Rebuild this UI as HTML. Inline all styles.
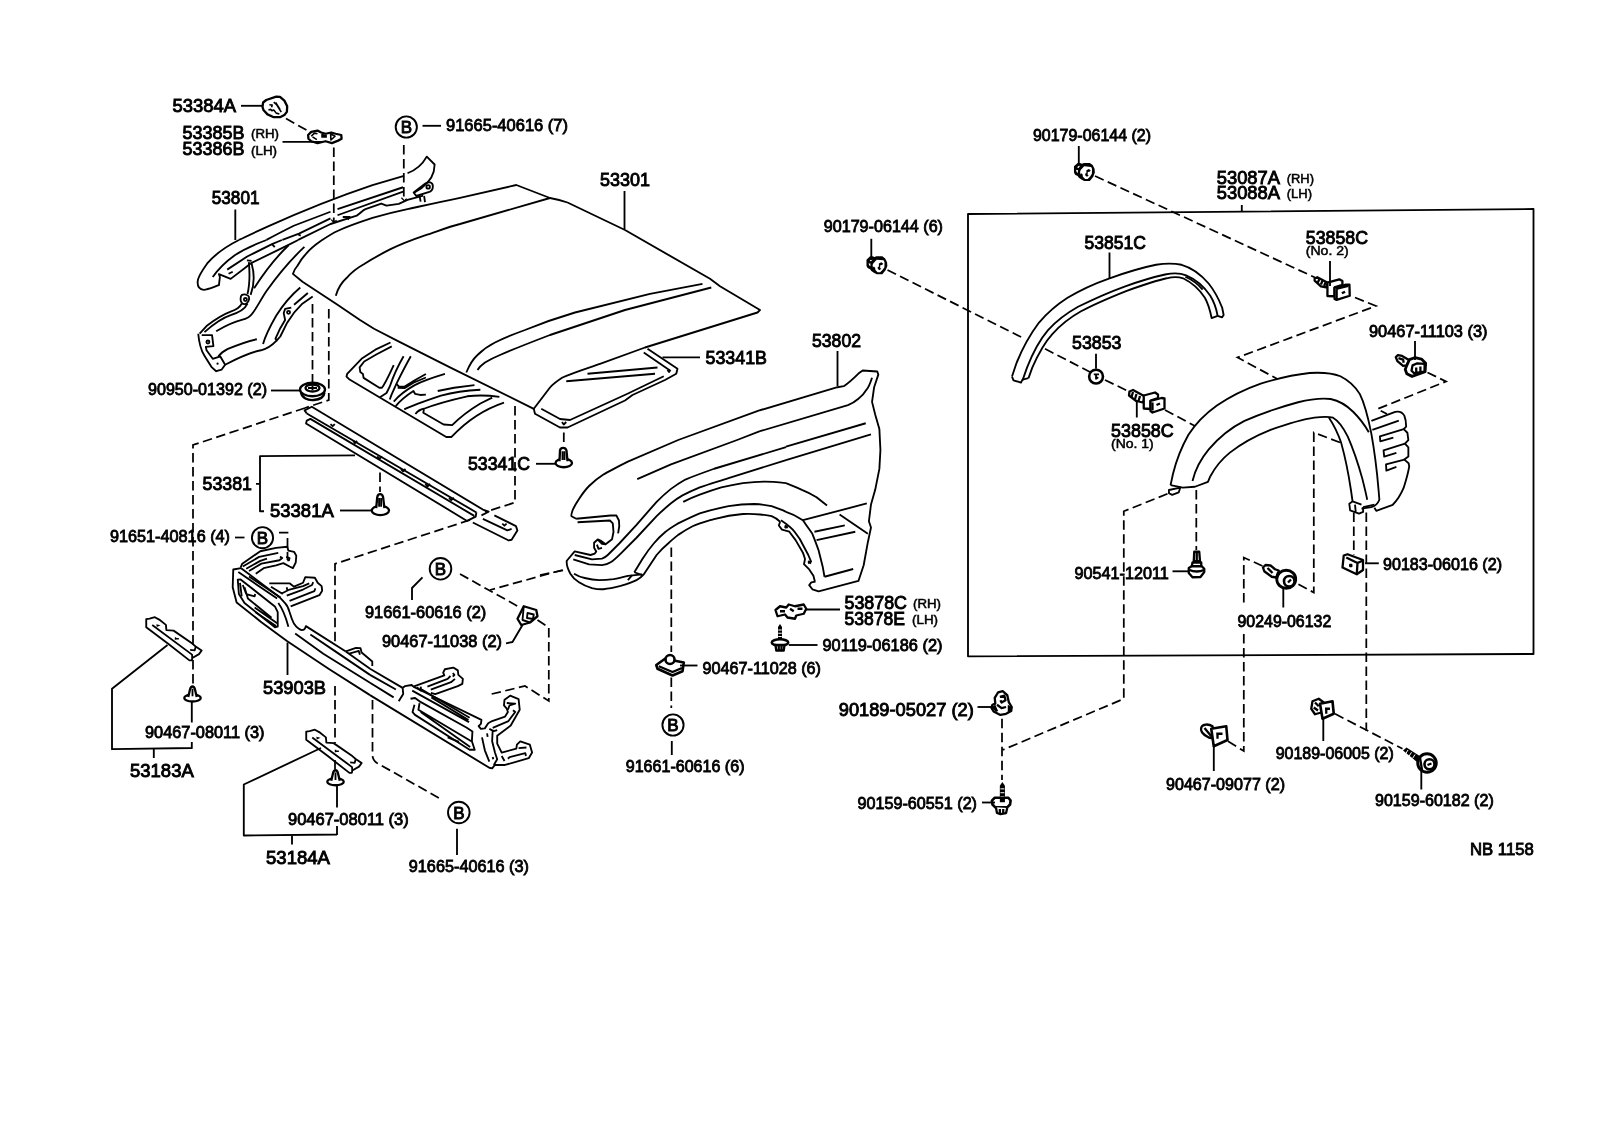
<!DOCTYPE html>
<html><head><meta charset="utf-8"><title>53-01 Hood &amp; Front Fender</title>
<style>
html,body{margin:0;padding:0;background:#fff;}
body{width:1600px;height:1146px;overflow:hidden;font-family:"Liberation Sans",sans-serif;}
svg{display:block;position:absolute;left:0;top:0;filter:grayscale(1);}
text{font-family:"Liberation Sans",sans-serif;fill:#000;}
text.a{stroke:#000;stroke-width:.95px;}
text.b{stroke:#000;stroke-width:.85px;}
text.c{stroke:#000;stroke-width:.5px;}
.B text{font-size:17px;text-anchor:middle;stroke:#000;stroke-width:.9px;}
.l,.p{fill:none;stroke:#000;stroke-width:1.85;stroke-linecap:butt;stroke-linejoin:round;}
.d{fill:none;stroke:#000;stroke-width:1.75;stroke-dasharray:9.5 4.5;}
.p path,.p circle,.p ellipse,.p rect{vector-effect:non-scaling-stroke;}
.w{fill:#fff;}
.h path,.h circle,.h ellipse,.p .t{stroke-width:2.3;}
.k{fill:#000;stroke:none;}
</style></head><body>
<svg width="1600" height="1146" viewBox="0 0 1600 1146">
<rect width="1600" height="1146" fill="#fff"/>
<!-- ===== cap 53384A & clip 53385B (16x coords) ===== -->
<g class="p h" transform="translate(255,90) scale(0.0625)">
<path d="M130,200 L180,160 L340,105 L400,110 L470,170 L515,260 L510,350 L470,400 L400,435 L300,435 L200,390 L135,320 L120,270 Z"/>
<path d="M230,235 L275,240 L265,275 M215,320 L250,310 L270,330 L300,320 L340,370 L390,385 M300,195 L350,240 L420,355 M330,200 L400,310" style="stroke-width:1.6"/>
<path d="M850,720 L900,670 L1000,650 L1060,680 L1130,700 L1220,680 L1290,700 L1380,720 L1385,780 L1330,810 L1230,850 L1130,820 L1000,850 L900,820 L855,780 Z"/>
<path class="k" d="M1060,700 L1150,715 L1150,765 L1060,765 Z"/>
<path d="M900,740 L950,690 L1000,700 M920,750 L990,795 M1210,700 L1280,740 L1215,800 Z" style="stroke-width:1.6"/>
</g>
<!-- ===== apron 53801 rail (R2 coords) ===== -->
<g class="p" transform="translate(180,140) scale(0.175)">
<path d="M1280,205 L1100,258 C900,325 700,405 500,495 C430,527 380,550 337,571"/>
<path d="M675,571 L860,480 L1010,432 C1030,420 1045,400 1060,395 L1150,363 L1180,375 L1250,365 L1300,342 L1390,318"/>
<path d="M930,440 L970,440 L958,455"/>
<path d="M494,571 C560,535 600,515 650,490 L860,410 M900,395 L1275,270"/>
<path d="M585,571 L680,535 L860,448 M900,430 L1275,295"/>
<path d="M675,540 L690,546"/>
<path d="M1300,190 C1340,175 1385,140 1410,95 L1455,140 L1450,180 C1440,220 1400,270 1340,300"/>
<path d="M1335,300 L1400,250 C1420,235 1445,240 1445,265 C1445,285 1430,295 1420,298 L1350,320 Z"/>
<circle cx="1418" cy="268" r="10"/>
<path d="M1370,325 L1375,352 M1395,320 L1400,355"/>
</g>
<!-- ===== apron lower / wheelhouse (R16 coords) ===== -->
<g class="p" transform="translate(170,240) scale(0.13785)">
<path d="M500,0 C420,40 330,100 270,170 C230,225 200,280 200,305 C200,335 215,360 245,362 C270,362 320,340 355,328 L362,268 L355,248 L440,282 L560,190 L585,170 L860,35 L930,0"/>
<path d="M310,268 C340,225 400,160 470,110 C540,65 620,30 700,0"/>
<path d="M415,215 L560,120 L740,30 L812,0"/>
<path d="M740,30 L760,52 M425,245 L455,230 M558,148 L592,152"/>
<path d="M572,160 C580,250 580,320 562,392 M592,170 C615,250 610,330 585,398"/>
<path d="M520,400 C535,390 565,395 572,410 C580,430 565,460 545,465 C525,468 510,450 512,425 C513,410 515,405 520,400Z"/>
<circle cx="547" cy="432" r="11"/>
<path d="M520,462 C505,495 470,510 440,520 C400,535 330,575 270,620 L215,680"/>
<path d="M562,462 C540,510 490,530 440,545 C380,565 310,615 250,668"/>
<path d="M975,50 C900,120 800,230 700,370 C660,430 630,490 600,530 C580,560 560,572 520,580 C460,595 390,630 335,662"/>
<path d="M860,38 C790,105 700,210 610,350"/>
<path d="M945,345 C880,400 820,470 770,550 C730,620 690,700 675,755"/>
<path d="M1000,385 L900,470"/>
<path d="M1035,410 L960,462 C920,500 880,550 850,600 L800,700 L775,728 L765,715 L800,640 L835,580 L825,530 L835,500 L880,490"/>
<circle cx="860" cy="525" r="11"/>
<path d="M775,728 C740,765 700,790 660,800 C600,812 520,845 470,870 L400,905"/>
<path d="M630,720 C560,735 480,765 420,790 C390,805 365,825 350,845"/>
<path d="M205,680 C210,740 225,800 250,840 L300,920 L335,952 L375,940 L400,905 L365,845 L310,862 L265,800 L260,775 L315,770 L305,690 L230,690"/>
<circle cx="275" cy="740" r="11"/><circle class="k" cx="345" cy="897" r="8"/>
</g>

<!-- ===== HOOD 53301 (real coords) ===== -->
<g class="l">
<path d="M292.9,273.9 C294,270 295.5,268 297.3,266 C300,261 303,257 306,253.8 C310,249 315,245 320,241.5 C326,237.5 331,234 337.5,231 C348,226 360,222 372.5,217.9 C384,214.5 396,211.5 407.5,209.1 C424,205.5 442,201.5 460,197.8 L516.3,185 L550,198 C556,199 562,200.5 567.5,202.5 L625,230 L710,278.8 L720,286.3 L760,310 L757.5,312.5 L645,347.5 L600,363.8 C588,368 572,373 562.5,377.5 C557,381 553,384 550,387.5 L533.8,408.8 L450,367.3 L397.5,340.8 L374,328.8 L360,320 L337.5,304.7 L302.5,281.8 Z"/>
<path d="M335.8,295.8 C338,288 341,283 346.3,278.3 C351,273 357,268 363.8,264.3 C372,259 381,254 390,249.4 C401,244 413,239.5 425,235.4 C437,231.5 448,227 460,224 L550,198"/>
<path d="M702.5,283.8 L650,293.8 L575,312.5 C558,317.5 541,323.5 525,330 C514,334 504,338 495,342.5 C488,346 482,350.5 477.5,355 C472,360 469,366 466.3,372.5"/>
<path d="M711.3,287.5 L625,310 L550,335 C533,341.5 516,348 500,355 C494,357.5 489,360 485,362.5 C481.5,365 479,367.5 477.5,370"/>
</g>

<!-- ===== hood inner panel LEFT (R17 coords) ===== -->
<g class="p" transform="translate(336,330) scale(0.13125)">
<path d="M415,95 L300,150 L200,215 L85,335 L80,355 L100,375 L840,815 L880,815 C950,740 1080,620 1280,553"/>
<path d="M425,125 L310,185 L215,240 L180,285 L185,320 L205,335 L210,365 L330,440 L350,440 C375,410 410,330 440,268"/>
<path d="M515,200 C480,260 430,370 410,430 L385,480 L335,512"/>
<path d="M570,200 C530,270 480,370 460,410 L420,500 L410,530"/>
<path d="M460,410 L480,432 L520,432 L600,383 L685,335 M470,440 L525,442 L590,402 L685,362"/>
<path d="M440,545 C470,510 520,465 600,420 C640,400 730,365 830,335"/>
<path d="M455,580 C480,550 520,510 590,465 L602,486 L640,495 L685,492"/>
<path d="M775,465 L900,440 L1055,420"/>
<path d="M520,605 C560,585 620,560 800,500 C880,478 1000,460 1100,455"/>
<path d="M605,640 C620,620 640,605 670,600 C720,580 800,550 1000,505 C1080,495 1180,500 1245,510"/>
<path d="M670,605 L665,630 L820,720 L885,725 C930,680 1000,620 1100,560 L1190,515"/>
</g>
<!-- ===== hood inner panel RIGHT 53341B, cap 90950, clip 53341C (R4 coords) ===== -->
<g class="p" transform="translate(280,300) scale(0.25)">
<path d="M1470,195 L1590,275 L1585,295 L1540,320 L1410,380 L1380,402 L1150,510 L1120,510 L1020,455 L1015,435"/>
<path d="M1455,210 L1560,282"/>
<path d="M1230,295 L1510,270 M1145,325 L1500,295"/>
<path d="M1535,305 L1390,375 L1160,480 L1120,476 L1045,435"/>
<path d="M1550,280 L1556,288 L1562,280 M1128,488 L1135,498 L1145,488"/>
<!-- cap 90950 -->
<ellipse class="t" cx="130" cy="358" rx="50" ry="27"/>
<ellipse class="t" cx="130" cy="352" rx="28" ry="14"/>
<path d="M112,352 H148 M130,342 V360"/>
<path class="t" d="M84,370 C88,392 110,402 135,400 C160,398 176,388 178,370"/>
<!-- clip 53341C -->
<ellipse class="w t" cx="1135" cy="652" rx="33" ry="17"/>
<path class="w t" d="M1118,645 L1120,602 C1122,588 1142,588 1146,602 L1150,645"/>
<path d="M1130,605 V640 M1138,605 V640"/>
</g>
<!-- ===== rail 53381 & clip 53381A (R18 coords) ===== -->
<g class="p" transform="translate(296,396) scale(0.14375)">
<path d="M75,122 L60,100 L110,75 L1300,790 L1340,805 L1290,830"/>
<path d="M75,122 L1255,810"/>
<path d="M1240,834 L100,159 L75,171 L70,191 L1190,869 L1250,839 L1255,810"/>
<path d="M240,195 L255,210 L270,195 M398,310 L410,328 L425,312 M565,420 L580,438 L598,420 M730,508 L745,524 L762,508 M900,612 L915,630 L932,612 M1065,708 L1080,724 L1098,708"/>
<path d="M1380,830 L1530,905 L1540,935 L1500,1000 L1480,1005 L1230,880"/>
<path d="M1300,855 L1470,935 L1500,925"/>
<path d="M1435,888 L1450,902 L1465,888"/>
<!-- clip -->
<ellipse class="w t" cx="587" cy="797" rx="60" ry="32"/>
<path class="w t" d="M558,780 L565,705 C570,675 600,675 606,705 L615,780"/>
<path d="M578,710 V770 M592,710 V770"/>
</g>

<!-- ===== FENDER 53802 front (R19 coords) ===== -->
<g class="p" transform="translate(556,440) scale(0.14375)">
<path d="M1419,-207 L850,0 L500,150 C430,185 370,215 330,240 C290,265 255,295 230,320 C200,350 180,380 160,410 C140,440 125,465 115,490 C108,510 105,525 108,530 L140,548"/>
<path d="M140,548 L380,525 L420,525 L438,560 L440,600 L432,650"/>
<path d="M150,572 L375,560 L395,580 L400,640 L390,690 L345,725 L310,700 L290,692 L265,715 L265,750 L280,775 L270,790 L240,800 L130,775 L75,840 C72,860 78,890 100,930 C115,955 135,975 160,990 C190,1010 220,1022 250,1030 C280,1037 300,1040 330,1038 C370,1034 410,1025 450,1015 C490,1003 530,990 560,975 C580,965 598,950 610,935 L640,890 C660,860 680,830 700,800 C725,770 750,745 780,720 C800,700 825,680 850,660 C880,640 915,618 950,600 C1000,578 1050,565 1100,550 C1170,532 1240,520 1300,515 C1340,512 1380,514 1420,518 C1450,521 1480,525 1500,530 C1525,540 1545,555 1560,570"/>
<path d="M290,692 L320,722 L345,725 M285,728 L295,757 L320,750"/>
<path d="M130,800 L250,830 L320,825 C335,820 350,810 360,800 L440,720 L560,590 L700,430 C730,400 765,368 800,340 C830,318 865,295 900,275 C960,250 1030,225 1100,200 L1600,50"/>
<path d="M120,830 L230,865 L320,870 C345,868 365,860 380,850 C405,835 430,810 450,790 L560,680 L700,530 C735,495 770,465 800,440 C825,420 850,402 880,385 C920,365 960,347 1000,330 C1060,308 1130,288 1200,265 L1600,140"/>
<path d="M885,430 C920,412 960,395 1000,380 C1050,362 1100,345 1150,330 C1200,318 1250,308 1300,300 C1350,294 1400,290 1450,290 C1500,290 1550,295 1600,300"/>
<path d="M545,920 L600,830 C625,790 650,755 680,720 C705,690 730,665 760,640 C790,615 820,598 850,580 C900,555 950,530 1000,510 C1060,492 1130,474 1200,460 C1260,450 1320,445 1380,445 C1420,447 1460,452 1500,460 L1580,490 L1600,500"/>
<path d="M125,930 C150,945 175,955 200,960 C235,968 265,973 300,975 C335,975 370,972 400,968 C435,962 470,953 500,945 L600,935"/>
<path d="M545,920 L600,940 M500,975 L530,940"/>
<path d="M565,272 L800,170 L1260,0 L1419,-61"/>
</g>
<!-- ===== FENDER rear (R20 coords) ===== -->
<g class="p" transform="translate(760,360) scale(0.20942)">
<path d="M0,240 L370,130 L400,125 C420,112 440,95 470,65 L490,50 L560,55 L565,70 L545,130 L535,200 L550,260 L570,330 L575,430 L570,520 L550,620 L530,690 L520,770 L530,800 L515,870 L495,980 L470,1055 L280,1105 L250,1095 L235,1075 L245,1062 L265,1058"/>
<path d="M535,85 C525,115 515,135 510,140 C495,165 480,178 470,185 C455,198 440,208 420,215 L0,340"/>
<path d="M505,302 L124,414 M530,355 L124,478"/>
<path d="M124,588 C150,598 175,609 200,620 C225,630 250,643 270,655 L320,695"/>
<path d="M124,725 C150,733 180,748 205,765 C225,795 240,815 250,830 C262,860 272,885 280,910 L300,990 L308,1035"/>
<path d="M96,772 L90,790 L105,810 L140,820 L170,860 L205,920 L215,950 L210,975 L235,1000 L255,1030 L262,1058"/>
<path d="M100,765 C130,785 150,800 165,820 L190,855 L230,930 L245,965"/>
<path d="M118,790 L132,802 M132,790 L118,802 M230,960 L244,972 M244,960 L230,972"/>
<path d="M205,765 L510,685 M380,738 L515,830 M260,820 L405,790 M270,860 L455,820 M308,1035 L445,998"/>
</g>

<!-- ===== BUMPER REINF 53903B left (R21 coords) ===== -->
<g class="p" transform="translate(222,540) scale(0.11257)">
<path d="M170,250 L100,262 L95,420 L130,555 L350,730 L580,900 L950,1146 L1315,1378"/>
<path d="M170,250 L500,500 C520,515 540,540 560,560 C580,580 590,600 600,640 L620,700 C630,730 645,755 660,770 C680,790 695,800 710,800 C725,800 735,795 740,780 L745,765 L1100,990"/>
<path d="M140,352 L165,350 L470,590 L495,640 L495,770 L470,775 L200,560 L150,480 Z"/>
<path d="M185,400 L215,480 L290,500 L295,480 M160,380 L175,500 M290,600 L490,740 M295,640 L480,765 M200,420 L230,520 L440,690"/>
<path d="M145,285 L490,520 M240,325 L520,510"/>
<path d="M500,560 C530,600 560,660 590,770"/>
<path d="M165,245 L180,210 L340,100 L480,70 L580,60 L590,95 L640,105 L660,140 L655,200 L630,250 L600,235 L545,205 L480,225 L370,250 L300,300"/>
<path d="M185,235 L330,150 L500,115 M215,255 L340,185 L400,165 M240,275 L350,210 L510,180 L535,160 L515,148 M570,150 L600,160 L595,180 L580,180"/>
<path d="M420,385 L600,385 L640,415 L720,380 L740,330 L825,335 L850,380 L885,410 L890,450 L865,490 L610,590"/>
<path d="M530,475 L600,440 L720,410 L775,385 M575,495 L720,440 L800,400 L810,375 M600,540 L820,455 L830,430 M435,415 L540,480 M575,420 L580,445"/>
<path d="M650,830 L900,1010 L1315,1268.5 M785,840 L1000,985 L1315,1198"/>
<path d="M1100,990 L1190,958 L1230,960 L1240,1000 L1335,1080 L1335,1120 M1130,1010 L1215,985 L1225,1020"/>
<path d="M1100,990 L1315,1143"/>
</g>
<!-- ===== BUMPER REINF right (R22 coords) ===== -->
<g class="p" transform="translate(370,640) scale(0.11257)">
<path d="M0,490 L1060,1135 L1085,1140 L1110,1110"/>
<path d="M0,255 L290,425 M0,310 L230,440 M0,380 L210,510"/>
<path d="M290,425 L310,410 L370,400 L385,415 M290,425 L295,480 L255,545"/>
<path d="M385,415 L990,710 L985,745 L965,765 L985,790 L1020,785 L1050,740 L1085,720 L1200,680 L1225,640 L1215,610 L1190,580 L1195,530 L1245,495 L1320,525 L1330,620 L1250,760 L1130,850 L1130,920 L1170,1000 L1300,965 L1305,930 L1335,900 L1420,930 L1440,1000 L1410,1050 L1200,1110 L1110,1110"/>
<path d="M375,450 L880,730 M460,440 L885,690 M545,510 L875,710"/>
<path d="M360,522 L400,515 L440,545 L860,780 L910,812 L905,900 L930,975 L885,975 L400,665 L378,640 L395,575"/>
<path d="M440,560 L430,620 L900,900 M450,640 L890,950 M690,865 L790,905"/>
<path d="M385,415 L660,315 L650,290 L665,260 L740,245 L780,270 L785,310 L825,345 L820,390 L780,410 L580,480 L540,470"/>
<path d="M415,420 L455,450 L450,415 M510,415 L690,345 L715,320 M540,440 L720,375 L755,345 M735,295 L750,310 L735,325"/>
<path d="M1060,790 L1100,810 L1130,800 M1090,800 L1085,900 L1110,1000 L1130,1060 L1100,1110 M995,865 L1020,980 L1060,1080 M1040,830 L1045,860 M1090,1040 L1095,1060 M1170,1030 L1195,1075 M1225,1055 L1240,1040 L1380,1005 L1385,1030 M1320,960 L1390,955 M1215,560 L1290,565 L1240,580 L1225,620 M1270,625 L1290,640 L1230,720 L1090,780"/>
</g>
<!-- brackets 53183A / 53184A (20.84x coords) -->
<g class="p" transform="translate(140,610) scale(0.047978)">
<path class="w" d="M130,190 L200,180 L310,150 L400,200 L540,310 L550,420 L700,430 L1090,700 L1160,760 L1285,845 L1230,920 L1090,1000 L1080,1050 L1030,1050 L580,700 L130,360 Z"/>
<path d="M255,315 L1085,930 L1090,1000 M1045,830 L1140,840 L1160,770"/>
<path class="k" d="M340,295 L430,318 L350,352 Z"/>
<path d="M740,570 V620 M745,600 H810" style="stroke-width:1.4"/>
</g>
<g transform="translate(160,112.5)"><g class="p" transform="translate(140,610) scale(0.047978)">
<path class="w" d="M130,190 L200,180 L310,150 L400,200 L540,310 L550,420 L700,430 L1090,700 L1160,760 L1285,845 L1230,920 L1090,1000 L1080,1050 L1030,1050 L580,700 L130,360 Z"/>
<path d="M255,315 L1085,930 L1090,1000 M1045,830 L1140,840 L1160,770"/>
<path class="k" d="M340,295 L430,318 L350,352 Z"/>
<path d="M740,570 V620 M745,600 H810" style="stroke-width:1.4"/>
</g></g>
<!-- ===== brackets 53183A / 53184A + clips (R6 coords) ===== -->
<g class="p" transform="translate(80,600) scale(0.25)">
<ellipse class="w t" cx="450" cy="392" rx="33" ry="14"/>
<path class="w t" d="M433,388 L440,358 C444,342 456,342 460,358 L467,388"/>
<path d="M450,355 V385"/>
<ellipse class="w t" cx="1022" cy="727" rx="33" ry="14"/>
<path class="w t" d="M1005,723 L1012,693 C1016,677 1028,677 1032,693 L1039,723"/>
<path d="M1022,690 V720"/>
</g>
<!-- clip 90467-11038 (R7 coords) -->
<g class="p" transform="translate(200,520) scale(0.25)">
<path class="w t" d="M1270,395 L1295,345 L1345,360 L1350,385 L1320,410 L1285,420 Z"/>
<path d="M1295,345 L1290,400 L1320,410 M1310,372 L1335,378 L1332,396 L1308,392 Z"/>
</g>

<!-- ===== moulding 53851C, washer 53853 (R23 coords) ===== -->
<g class="p" transform="translate(1000,240) scale(0.15009)">
<path d="M80,910 L110,820 C150,720 200,630 260,550 C320,480 380,430 450,385 C540,330 630,290 730,255 C830,220 940,185 1040,165 C1100,155 1160,155 1210,165 C1280,185 1340,230 1390,290 C1430,340 1460,400 1480,450 L1490,500 L1480,515 L1450,505"/>
<path d="M80,910 L90,935 L140,950 L150,930 L190,920"/>
<path d="M150,935 L180,850 C215,760 260,670 320,600 C380,535 440,490 520,445 C620,395 720,350 830,310 C930,275 1030,245 1100,230 C1150,220 1200,220 1240,235 C1300,260 1360,310 1400,370 C1425,410 1440,450 1450,505"/>
<path d="M190,920 L215,850 C250,770 290,690 350,625 C400,570 460,520 540,475 C640,420 740,380 840,340 C940,305 1040,270 1110,255 C1150,245 1190,245 1220,255 C1280,285 1330,330 1365,385 C1390,430 1400,470 1410,520 L1450,505"/>
<path d="M1235,245 C1280,265 1320,295 1350,330"/>
<circle cx="640" cy="910" r="46" style="stroke-width:2.6"/>
<path d="M625,895 H660 M640,895 V925 L655,915"/>
</g>
<!-- ===== flare 53087A + mud guard (R24 coords) ===== -->
<g class="p" transform="translate(1160,360) scale(0.1625)">
<path d="M65,770 L80,700 C100,620 130,540 175,460 C220,390 280,330 350,280 C430,225 520,180 620,145 C720,115 820,90 920,80 C1000,75 1060,80 1110,100 C1160,125 1200,160 1230,210 C1260,270 1280,350 1300,450 C1320,560 1335,680 1345,800 L1350,860 C1340,885 1325,900 1300,905 L1240,915"/>
<path d="M65,770 L140,785 L215,780 L295,750 L310,715"/>
<path d="M55,800 L125,785 L115,815 L75,830 L55,820 Z"/>
<path d="M200,745 C215,680 250,610 300,550 C360,480 430,420 520,375 C620,330 740,290 850,260 C930,240 1000,235 1050,240 C1100,250 1150,280 1190,320 C1230,360 1260,400 1285,445"/>
<path d="M310,715 C340,660 380,610 430,570 C500,515 580,470 680,430 C780,395 880,365 950,355 C1000,348 1040,348 1065,355 C1100,375 1130,420 1155,470 C1190,550 1220,640 1245,730 C1260,790 1270,830 1275,860"/>
<path d="M1040,355 C1070,400 1095,450 1115,510 C1140,600 1160,700 1175,800 L1185,870 L1240,890"/>
<path d="M1185,870 L1165,885 L1170,925 L1225,945 L1250,935 L1250,905 M1200,890 L1205,940 M1250,905 L1320,890"/>
</g>
<!-- mud guard (8.19x coords) -->
<g class="p" transform="translate(1350,390) scale(0.1221)">
<path d="M175,252 L370,180 C400,172 430,185 445,210 C455,235 460,270 460,300 L440,320 L470,350 L478,410 L450,440 L478,470 L478,545 L445,570 L480,600 L485,625 C475,690 455,750 440,800 C415,860 380,910 350,940 L215,990 L200,965"/>
<path d="M183,326 L400,250"/>
<path d="M440,320 L245,380 L248,420 L355,390 M450,440 L275,495 L280,545 L380,515 M445,570 L295,610 L298,660 L380,630"/>
</g>
<!-- ===== hardware ===== -->
<!-- nuts 90179 (31.84x coords) -->
<g transform="translate(1060,150) scale(0.031407)">
<path class="k" d="M445,520 L560,410 L640,410 L700,440 L760,410 L950,410 L1040,480 L1100,600 L1110,720 L1060,850 L950,985 L770,985 L680,940 L600,880 L560,830 L480,790 L445,720 Z"/>
<path class="w" d="M545,560 L610,480 L630,520 L590,575 Z M510,640 L570,640 L570,730 L530,700 Z"/>
<path class="w" d="M660,640 L770,520 L990,540 L1020,600 L1015,760 L960,840 L880,920 L800,920 L730,850 L720,780 L680,740 L650,770 L640,690 Z"/>
<path class="k" d="M980,650 L920,605 L840,645 L840,735 L800,760 L810,820 L860,855 L915,810 L880,790 L885,700 L940,690 Z"/>
</g>
<g transform="translate(-207.5,93.3)"><g transform="translate(1060,150) scale(0.031407)">
<path class="k" d="M445,520 L560,410 L640,410 L700,440 L760,410 L950,410 L1040,480 L1100,600 L1110,720 L1060,850 L950,985 L770,985 L680,940 L600,880 L560,830 L480,790 L445,720 Z"/>
<path class="w" d="M545,560 L610,480 L630,520 L590,575 Z M510,640 L570,640 L570,730 L530,700 Z"/>
<path class="w" d="M660,640 L770,520 L990,540 L1020,600 L1015,760 L960,840 L880,920 L800,920 L730,850 L720,780 L680,740 L650,770 L640,690 Z"/>
<path class="k" d="M980,650 L920,605 L840,645 L840,735 L800,760 L810,820 L860,855 L915,810 L880,790 L885,700 L940,690 Z"/>
</g></g>
<g class="p h" transform="translate(980,330) scale(0.25)">
<!-- clip No.1 -->
<path class="w" d="M598,246 L612,240 L660,266 L652,290 L625,284 L596,262 Z"/><path d="M612,248 L606,268 M626,256 L620,276 M640,264 L634,284"/>
<path class="w" d="M655,262 L700,250 L712,258 L712,272 L682,282 L682,316 L655,314 Z"/>
<path class="w" d="M682,284 L726,272 L738,274 L738,314 L690,330 L682,324 Z"/>
<path d="M690,290 V322 M706,300 L720,294"/>
<!-- screw 90541 (8x coords/2) -->
<path class="w" d="M857,887 H877 L880,925 H855 Z"/><path d="M867,892 V920"/>
<path class="w" d="M850,930 H885 V945 H847 Z"/>
<path class="w" d="M835,952 L847,945 L887,945 L897,955 L897,968 L882,988 L850,989 L835,972 Z"/><path d="M838,960 C855,968 880,968 895,960"/>
<!-- bolt 90249 -->
<path class="w" d="M1132,950 L1142,940 L1162,942 L1180,957 L1195,962 L1185,990 L1167,987 L1137,965 Z"/><path d="M1150,952 L1170,972"/>
<ellipse class="w" cx="1225" cy="997" rx="38" ry="36" style="stroke-width:2.8"/><circle cx="1237" cy="1005" r="21" style="stroke-width:2.6"/><path d="M1232,1010 L1244,998"/>
<!-- clip 90183 -->
<path class="w" d="M1455,902 L1470,897 L1532,920 L1532,960 L1507,977 L1450,950 Z"/><path d="M1465,910 L1510,932 L1507,977 M1510,932 L1532,922 M1476,942 H1490 M1483,935 V949"/>
</g>
<g class="p h" transform="translate(1300,268) scale(0.10471)">
<!-- clip No.2 -->
<path class="w" d="M140,100 L165,88 L265,140 L250,185 L200,175 L140,120 Z"/><path d="M185,105 L170,140 M215,120 L200,158 M245,135 L230,172"/>
<path class="w" d="M262,140 L375,108 L405,125 L405,160 L330,185 L330,270 L262,268 Z"/>
<path class="w" d="M330,190 L440,158 L472,160 L475,265 L350,305 L330,295 Z"/>
<path d="M350,205 V298 M345,200 L460,170 M400,242 L430,226"/>
<!-- 90467-11103 -->
<path class="w" d="M915,850 L935,832 L975,840 L1045,880 L1020,930 L985,935 L930,890 Z"/><path d="M940,860 L985,875 L990,905"/>
<path class="w" d="M1020,930 L1045,875 L1100,855 L1160,870 L1200,910 L1195,990 L1070,1035 L1020,1010 L1005,970 Z" style="stroke-width:2.8"/>
<path d="M1075,930 L1120,910 L1190,915 L1190,990 L1090,1005 L1065,980 Z M1110,950 V990 M1150,940 V985"/>
</g>
<g class="p h" transform="translate(980,690) scale(0.11338)">
<!-- clip 90189-05027 -->
<path class="w" d="M130,70 L160,20 L200,10 L240,45 L255,110 L280,150 L275,185 L230,210 L180,220 L120,190 L100,155 L110,130 L135,120 Z"/>
<path class="k" d="M100,150 L135,130 L160,185 L140,195 Z M245,130 L280,150 L275,185 L245,195 Z"/>
<path d="M175,60 L215,50 L225,90 L190,110 L180,90 M150,130 L190,160 L230,150"/>
<!-- screw 90159-60551 -->
<path class="k" d="M175,845 L197,812 L220,845 V960 H175 Z"/><path d="M180,872 H215 M180,906 H215 M180,940 H215" style="stroke:#fff;stroke-width:1"/>
<path class="w" d="M105,975 L130,950 L250,950 L270,975 L265,1010 L240,1035 L135,1035 L110,1010 Z" style="stroke-width:2.6"/>
<path class="k" d="M175,950 H220 V990 H175 Z"/>
<path class="w" d="M140,1035 L150,1085 L180,1095 L230,1085 L240,1040"/><path d="M175,1050 V1090 M205,1050 V1090"/>
</g>
<g class="p h" transform="translate(1140,640) scale(0.25)">
<!-- clip 90467-09077 -->
<path class="w" d="M245,350 C250,335 275,335 290,345 L300,395 L275,390 C255,380 240,365 245,350 Z"/><path d="M258,352 L285,385"/>
<path class="w" d="M285,355 L345,345 L350,400 L295,425 Z" style="stroke-width:2.6"/><path d="M305,375 H330 M310,375 V395"/>
<!-- clip 90189-06005 -->
<path class="w" d="M690,245 L715,235 L735,250 L725,290 L700,297 L685,275 Z"/><path d="M700,250 L715,265 M695,270 L712,282"/>
<path class="w" d="M720,255 L770,245 L775,295 L730,315 Z" style="stroke-width:2.6"/><path d="M740,275 H760 M745,275 V295"/>
<!-- screw 90159-60182 -->
<path class="k" d="M1052,442 L1066,430 L1122,466 L1108,488 Z"/><path d="M1072,440 L1062,456 M1086,449 L1076,465 M1100,458 L1090,474" style="stroke:#fff;stroke-width:1"/>
<circle class="w" cx="1148" cy="492" r="37" style="stroke-width:3"/><circle cx="1158" cy="497" r="20" style="stroke-width:2.6"/><path d="M1150,500 L1166,494 M1120,470 L1128,520"/>
</g>
<g class="p h" transform="translate(560,560) scale(0.25)">
<!-- clip 90467-11028 -->
<path class="w" d="M385,420 L420,395 L495,410 L490,445 L450,462 L390,435 Z" style="stroke-width:2.6"/><path d="M395,425 L450,448 L488,432"/>
<circle class="w" cx="440" cy="398" r="18" style="stroke-width:2.6"/>
<!-- clip 53878C -->
<path class="w" d="M862,200 L880,185 L905,190 L915,178 L940,185 L975,178 L985,195 L975,215 L945,222 L940,235 L910,230 L900,218 L870,225 Z"/><path d="M880,205 H900 M920,195 L935,205 M950,195 H970"/>
<!-- screw 90119 -->
<path class="k" d="M872,268 L880,256 L888,268 V320 H872 Z"/><path d="M873,280 H887 M873,293 H887 M873,306 H887" style="stroke:#fff;stroke-width:1"/>
<ellipse class="w" cx="880" cy="330" rx="33" ry="13" style="stroke-width:2.6"/>
<path class="w" d="M862,340 L898,340 L895,362 L865,362 Z"/><path d="M875,342 V362 M886,342 V362"/>
</g>

<!-- BOX -->
<path class="l" d="M968,214 L1533.5,209 L1533.5,654 L968,656.3 Z" stroke-width="1.7"/>
<!-- circle B marks -->
<g class="l" stroke-width="1.9" style="stroke-width:1.9">
<circle cx="406.3" cy="127" r="10.6"/><circle cx="262.5" cy="537.7" r="10.6"/><circle cx="440.5" cy="568.8" r="10.8"/><circle cx="673" cy="725" r="10.6"/><circle cx="458.8" cy="812.5" r="10.8"/>
</g>
<g class="B">
<text x="406.3" y="133.1">B</text><text x="262.5" y="543.8">B</text><text x="440.5" y="574.9">B</text><text x="673" y="731.1">B</text><text x="458.8" y="818.6">B</text>
</g>
<!-- LEADERS (solid) -->
<g class="l">
<path d="M241,105.8H263"/>
<path d="M331.2,219.6L333.8,222.3L336.6,220.2M401.4,197.8L404.4,200.9L406.6,198.6" stroke-width="1.3"/>
<path d="M282.5,141.8H322"/>
<path d="M422.5,125.8H441"/>
<path d="M235.3,209.5V240"/>
<path d="M624.5,191V229"/>
<path d="M662.5,357.3H700"/>
<path d="M837.5,351V386"/>
<path d="M271,390.5H301"/>
<path d="M256,483.8H260M355,455.3L260,456.2V511.2H264"/>
<path d="M340,510.5H372"/>
<path d="M536,463.8H555"/>
<path d="M422.5,577.3L412,588V600"/>
<path d="M506,643.3L512.5,642L522.5,625"/>
<path d="M287.5,642.5V675"/>
<path d="M167.5,645L112,688.8V749.2L192.5,748M191.8,702V722.5M191.8,742V748.5M153.8,749V758"/>
<path d="M321,748L243.8,784.5V835.5L337,834.5M337,786V807.5M337,826V835M292,835.5V844.5"/>
<path d="M457,828.8V855"/>
<path d="M680,665.5H697.5"/>
<path d="M671.8,741V755"/>
<path d="M806,609.5H840"/>
<path d="M788.8,645H817.5"/>
<path d="M977.5,707H992.5"/>
<path d="M982,802.5H995"/>
<path d="M1078.8,146V166"/>
<path d="M871.3,238.8V260"/>
<path d="M1109.5,252.5V278.8"/>
<path d="M1096,353.8V368.8"/>
<path d="M1241.8,205V211.5"/>
<path d="M1330,261V286"/>
<path d="M1415,341V360"/>
<path d="M1136.8,400V417.5"/>
<path d="M1172.5,571.3H1188.8"/>
<path d="M1283.3,587.5V607.5"/>
<path d="M1365,563.3H1378.8"/>
<path d="M1213.8,746V771"/>
<path d="M1323.3,717.5V741"/>
<path d="M1421.3,771V789.5"/>
</g>
<!-- DASHED -->
<g class="d">
<path d="M286,118.5L309,131.5"/>
<path d="M333.8,147.5V222"/>
<path d="M403.8,145V200"/>
<path d="M312.5,304V382"/>
<path d="M328.8,309V400L305,408"/>
<path d="M305,408L193,445V648"/>
<path d="M193,660V686"/>
<path d="M380,472.5V492"/>
<path d="M235,537.5H245"/>
<path d="M279,532.5H287.5V560"/>
<path d="M515,406V502.5L485,512"/>
<path d="M563.8,432.5V445"/>
<path d="M470,520L335,563.8V643.5"/>
<path d="M335,686V743"/>
<path d="M335,760V771"/>
<path d="M460,574L520,607.5"/>
<path d="M562.5,570L490,590"/>
<path d="M537.5,620L548.8,627.5V701L525,686L487.5,695"/>
<path d="M372.5,700V755Q372.5,760 377,763L442.5,800"/>
<path d="M671.3,547.5V652"/>
<path d="M671.3,677.5V708"/>
<path d="M540,575L565,570"/>
<path d="M887.5,270L1025,339M1045,348.8L1090,372"/>
<path d="M1105,380L1130,392M1165,410L1195,426"/>
<path d="M1095,176L1315,277.5"/>
<path d="M1355,297.5L1376,306L1237.5,357.5L1277.5,379"/>
<path d="M1427.5,372.5L1446,381.5L1377.5,409L1387,414"/>
<path d="M1167.5,493.8L1123.8,511.3V698.8L1002.5,750"/>
<path d="M1196.3,490V550"/>
<path d="M1340,442.5L1313.8,432.5V592.5L1297.5,583.8"/>
<path d="M1262.5,566L1243.8,557.5V606M1243.8,634V751L1227.5,741"/>
<path d="M1353.8,512.5V555"/>
<path d="M1366.3,512.5V731"/>
<path d="M1002,718.8V780"/>
<path d="M1335,713.8L1402.5,748.8"/>
</g>

<text class="a" x="172.5" y="112.1" font-size="19" textLength="63.50" lengthAdjust="spacingAndGlyphs">53384A</text>
<text class="a" x="182.5" y="139.1" font-size="19" textLength="62.00" lengthAdjust="spacingAndGlyphs">53385B</text>
<text class="c" x="251" y="138.3" font-size="12" textLength="28.00" lengthAdjust="spacingAndGlyphs">(RH)</text>
<text class="a" x="182.5" y="155.35" font-size="19" textLength="62.00" lengthAdjust="spacingAndGlyphs">53386B</text>
<text class="c" x="251" y="154.55" font-size="12" textLength="26.00" lengthAdjust="spacingAndGlyphs">(LH)</text>
<text class="b" x="446" y="131.1" font-size="16.5" textLength="122.00" lengthAdjust="spacingAndGlyphs">91665-40616 (7)</text>
<text class="a" x="211.75" y="204.1" font-size="19" textLength="47.75" lengthAdjust="spacingAndGlyphs">53801</text>
<text class="a" x="600" y="186.1" font-size="19" textLength="50.00" lengthAdjust="spacingAndGlyphs">53301</text>
<text class="a" x="705.5" y="363.6" font-size="19" textLength="61.50" lengthAdjust="spacingAndGlyphs">53341B</text>
<text class="a" x="812" y="347.35" font-size="19" textLength="49.00" lengthAdjust="spacingAndGlyphs">53802</text>
<text class="b" x="148" y="394.85" font-size="16.5" textLength="119.00" lengthAdjust="spacingAndGlyphs">90950-01392 (2)</text>
<text class="a" x="202.5" y="489.85" font-size="19" textLength="49.50" lengthAdjust="spacingAndGlyphs">53381</text>
<text class="a" x="270" y="516.6" font-size="19" textLength="63.75" lengthAdjust="spacingAndGlyphs">53381A</text>
<text class="b" x="110" y="542.35" font-size="16.5" textLength="120.00" lengthAdjust="spacingAndGlyphs">91651-40816 (4)</text>
<text class="b" x="365" y="618.1" font-size="16.5" textLength="121.30" lengthAdjust="spacingAndGlyphs">91661-60616 (2)</text>
<text class="b" x="382" y="647.35" font-size="16.5" textLength="120.00" lengthAdjust="spacingAndGlyphs">90467-11038 (2)</text>
<text class="a" x="263" y="693.6" font-size="19" textLength="63.00" lengthAdjust="spacingAndGlyphs">53903B</text>
<text class="b" x="145" y="738.1" font-size="16.5" textLength="119.50" lengthAdjust="spacingAndGlyphs">90467-08011 (3)</text>
<text class="a" x="130" y="776.6" font-size="19" textLength="63.75" lengthAdjust="spacingAndGlyphs">53183A</text>
<text class="b" x="288" y="824.85" font-size="16.5" textLength="120.75" lengthAdjust="spacingAndGlyphs">90467-08011 (3)</text>
<text class="a" x="266" y="863.6" font-size="19" textLength="64.00" lengthAdjust="spacingAndGlyphs">53184A</text>
<text class="b" x="408.75" y="872.35" font-size="16.5" textLength="120.25" lengthAdjust="spacingAndGlyphs">91665-40616 (3)</text>
<text class="a" x="468" y="469.85" font-size="19" textLength="62.00" lengthAdjust="spacingAndGlyphs">53341C</text>
<text class="b" x="702.5" y="674.35" font-size="16.5" textLength="118.50" lengthAdjust="spacingAndGlyphs">90467-11028 (6)</text>
<text class="b" x="625.75" y="772.35" font-size="16.5" textLength="118.75" lengthAdjust="spacingAndGlyphs">91661-60616 (6)</text>
<text class="a" x="844.5" y="609.1" font-size="19" textLength="62.50" lengthAdjust="spacingAndGlyphs">53878C</text>
<text class="c" x="913" y="608.3" font-size="12" textLength="28.00" lengthAdjust="spacingAndGlyphs">(RH)</text>
<text class="a" x="844.5" y="624.85" font-size="19" textLength="60.50" lengthAdjust="spacingAndGlyphs">53878E</text>
<text class="c" x="912" y="624.05" font-size="12" textLength="26.00" lengthAdjust="spacingAndGlyphs">(LH)</text>
<text class="b" x="822.5" y="650.6" font-size="16.5" textLength="120.00" lengthAdjust="spacingAndGlyphs">90119-06186 (2)</text>
<text class="a" x="838.75" y="715.6" font-size="18.5" textLength="135.00" lengthAdjust="spacingAndGlyphs">90189-05027 (2)</text>
<text class="b" x="857.5" y="808.6" font-size="16.5" textLength="119.50" lengthAdjust="spacingAndGlyphs">90159-60551 (2)</text>
<text class="b" x="1033" y="141.1" font-size="16.5" textLength="118.00" lengthAdjust="spacingAndGlyphs">90179-06144 (2)</text>
<text class="b" x="823.75" y="232.35" font-size="16.5" textLength="119.25" lengthAdjust="spacingAndGlyphs">90179-06144 (6)</text>
<text class="a" x="1084.5" y="248.6" font-size="19" textLength="61.50" lengthAdjust="spacingAndGlyphs">53851C</text>
<text class="a" x="1072" y="348.6" font-size="19" textLength="49.50" lengthAdjust="spacingAndGlyphs">53853</text>
<text class="a" x="1216.75" y="183.6" font-size="19" textLength="63.25" lengthAdjust="spacingAndGlyphs">53087A</text>
<text class="c" x="1286.75" y="182.8" font-size="12" textLength="27.25" lengthAdjust="spacingAndGlyphs">(RH)</text>
<text class="a" x="1216.75" y="198.6" font-size="19" textLength="63.25" lengthAdjust="spacingAndGlyphs">53088A</text>
<text class="c" x="1286.75" y="197.8" font-size="12" textLength="25.25" lengthAdjust="spacingAndGlyphs">(LH)</text>
<text class="a" x="1305.75" y="243.6" font-size="19" textLength="62.25" lengthAdjust="spacingAndGlyphs">53858C</text>
<text class="c" x="1305.75" y="255.3" font-size="13" textLength="43.00" lengthAdjust="spacingAndGlyphs">(No. 2)</text>
<text class="b" x="1369" y="337.35" font-size="16.5" textLength="118.50" lengthAdjust="spacingAndGlyphs">90467-11103 (3)</text>
<text class="a" x="1111" y="436.85" font-size="19" textLength="62.75" lengthAdjust="spacingAndGlyphs">53858C</text>
<text class="c" x="1111" y="447.8" font-size="13" textLength="42.75" lengthAdjust="spacingAndGlyphs">(No. 1)</text>
<text class="b" x="1074.5" y="579.1" font-size="16.5" textLength="94.25" lengthAdjust="spacingAndGlyphs">90541-12011</text>
<text class="b" x="1237.5" y="627.35" font-size="16.5" textLength="93.75" lengthAdjust="spacingAndGlyphs">90249-06132</text>
<text class="b" x="1383" y="569.85" font-size="16.5" textLength="119.00" lengthAdjust="spacingAndGlyphs">90183-06016 (2)</text>
<text class="b" x="1166" y="789.85" font-size="16.5" textLength="119.00" lengthAdjust="spacingAndGlyphs">90467-09077 (2)</text>
<text class="b" x="1275.75" y="758.6" font-size="16.5" textLength="118.00" lengthAdjust="spacingAndGlyphs">90189-06005 (2)</text>
<text class="b" x="1375" y="806.1" font-size="16.5" textLength="118.75" lengthAdjust="spacingAndGlyphs">90159-60182 (2)</text>
<text class="b" x="1470" y="854.85" font-size="16.5" textLength="63.75" lengthAdjust="spacingAndGlyphs">NB 1158</text>

</svg>
</body></html>
